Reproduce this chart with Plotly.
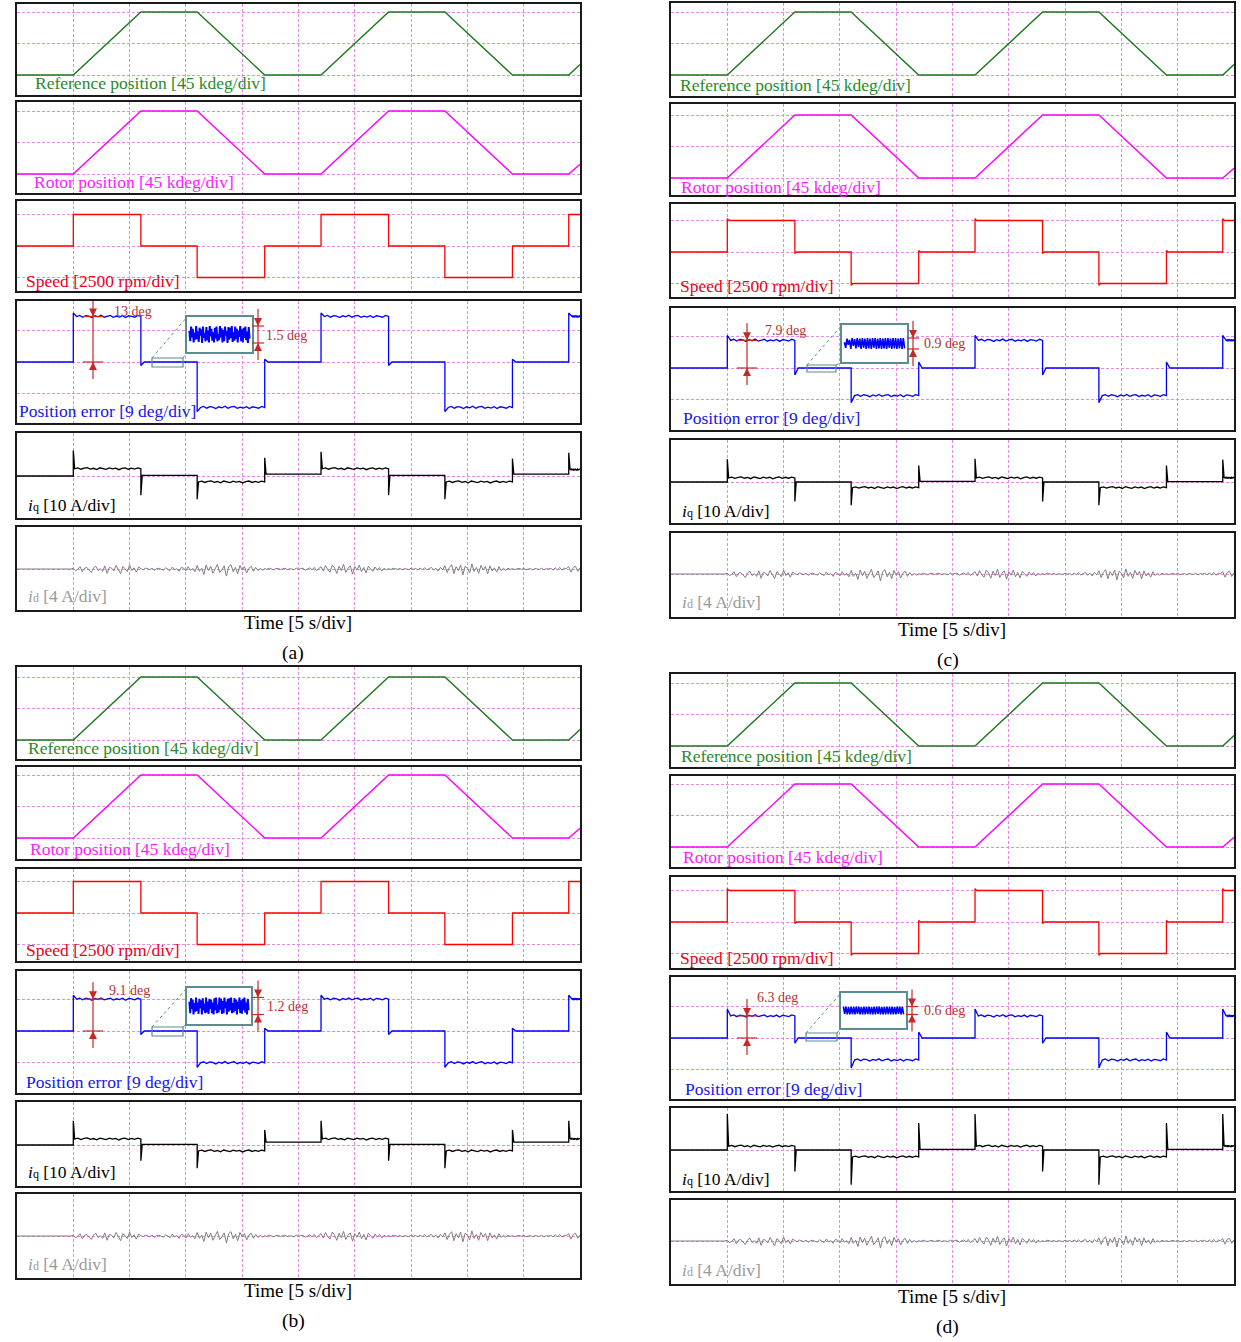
import plotly.graph_objects as go

W, H = 1241, 1342
FONT = "Liberation Serif"

# ---------------- data ----------------
# move profile: event instants (s) within a 50 s record
EVENT_T = [5, 11, 16, 22, 27, 33, 38, 44, 49]
T_END = 50

# positions (kdeg)
REF_T = [0, 5, 11, 16, 22, 27, 33, 38, 44, 49, 50]
REF_POS = [0, 0, 90, 90, 0, 0, 90, 90, 0, 0, 15]
ROT_T = [0, 5, 11, 16, 22, 27, 33, 38, 44, 49, 50]
ROT_POS = [0, 0, 90, 90, 0, 0, 90, 90, 0, 0, 14]

# speed (rpm): level of each segment, and peak reached at each event
SPEED_LEVELS = [0, 2500, 0, -2500, 0, 2500, 0, -2500, 0, 2500]
SPEED_PEAKS = {
    "a": [2500, 0, -2500, 0, 2500, 0, -2500, 0, 2500],
    "b": [2500, 0, -2500, 0, 2500, 0, -2500, 0, 2500],
    "c": [2650, -120, -2650, 120, 2650, -120, -2650, 120, 2650],
    "d": [2650, -120, -2650, 120, 2650, -120, -2650, 120, 2650],
}

# position error (deg)
PE_LEVELS = {
    "a": [0, 13, 0, -13, 0, 13, 0, -13, 0, 13],
    "b": [0, 9.1, 0, -9.1, 0, 9.1, 0, -9.1, 0, 9.1],
    "c": [0, 7.9, 0, -7.9, 0, 7.9, 0, -7.9, 0, 7.9],
    "d": [0, 6.3, 0, -6.3, 0, 6.3, 0, -6.3, 0, 6.3],
}
PE_PEAKS = {
    "a": [14.0, -1.0, -14.2, 0.8, 14.0, -1.0, -14.2, 0.8, 14.0],
    "b": [10.2, -1.0, -10.4, 0.8, 10.2, -1.0, -10.4, 0.8, 10.2],
    "c": [9.3, -2.0, -9.9, 1.7, 9.3, -2.0, -9.9, 1.7, 9.3],
    "d": [8.3, -1.5, -8.6, 1.7, 8.3, -1.5, -8.6, 1.7, 8.3],
}
PE_RIPPLE = [0.3, -0.2, 0.25, 0.1, -0.3, 0.2, -0.1, 0.35, -0.2, 0.15,
             0.3, -0.25, 0.1, -0.15, 0.25, -0.3, 0.2, 0.05, -0.2, 0.3]

# zoomed standstill error (deg)
NOISE = {
    "a": [0.35, -0.6, 0.7, -0.25, 0.5, -0.7, 0.15, -0.45, 0.75, -0.4, 0.25, -0.65,
          0.6, -0.1, 0.45, -0.75, 0.7, -0.3, 0.1, -0.6, 0.65, -0.5, 0.35, -0.7,
          0.75, -0.15, 0.5, -0.55, 0.2, -0.7, 0.6, -0.35, 0.7, -0.6, 0.05, -0.5,
          0.75, -0.25, 0.55, -0.7, 0.4, -0.6, 0.7, -0.1, 0.3, -0.75, 0.65, -0.45,
          0.6, -0.3, 0.75, -0.65, 0.2, -0.55, 0.7, -0.4, 0.5, -0.7, 0.35, -0.2,
          0.75, -0.6, 0.45, -0.7, 0.6, -0.3, 0.7, -0.5, 0.25, -0.75, 0.65, -0.35],
    "b": [0.3, -0.5, 0.55, -0.2, 0.45, -0.6, 0.2, -0.4, 0.6, -0.35, 0.25, -0.55,
          0.5, -0.15, 0.4, -0.6, 0.55, -0.3, 0.15, -0.5, 0.6, -0.45, 0.3, -0.55,
          0.5, -0.2, 0.45, -0.5, 0.25, -0.6, 0.55, -0.3, 0.6, -0.5, 0.1, -0.45,
          0.6, -0.25, 0.5, -0.55, 0.35, -0.5, 0.6, -0.15, 0.3, -0.6, 0.5, -0.4,
          0.55, -0.3, 0.6, -0.5, 0.2, -0.45, 0.55, -0.35, 0.45, -0.6, 0.3, -0.2,
          0.6, -0.5, 0.4, -0.55, 0.5, -0.3, 0.6, -0.45, 0.25, -0.6, 0.5, -0.3],
    "c": [0.1, -0.35, 0.4, -0.1, 0.3, -0.45, 0.45, -0.2, 0.35, -0.4, 0.45, -0.3,
          0.4, -0.45, 0.45, -0.35, 0.4, -0.45, 0.45, -0.4, 0.4, -0.45, 0.45, -0.35,
          0.45, -0.45, 0.4, -0.4, 0.45, -0.45, 0.4, -0.4, 0.45, -0.45, 0.45, -0.35,
          0.4, -0.45, 0.45, -0.4, 0.45, -0.45, 0.4, -0.4, 0.45, -0.45, 0.45, -0.4],
    "d": [0.3, -0.25, 0.3, -0.3, 0.28, -0.3, 0.3, -0.28, 0.3, -0.3, 0.3, -0.25,
          0.3, -0.3, 0.28, -0.3, 0.3, -0.3, 0.3, -0.28, 0.3, -0.3, 0.28, -0.3,
          0.3, -0.3, 0.3, -0.25, 0.3, -0.3, 0.28, -0.3, 0.3, -0.3, 0.3, -0.28,
          0.3, -0.3, 0.3, -0.3, 0.28, -0.3, 0.3, -0.25, 0.3, -0.3, 0.3, -0.3],
}

# q-axis current (A)
IQ_LEVELS = {
    "a": [0, 2.3, 0.2, -1.9, 0.6, 2.3, 0.2, -1.9, 0.6, 2.0],
    "b": [0, 1.9, 0.2, -1.9, 0.9, 1.9, 0.2, -1.9, 0.9, 1.9],
    "c": [0, 1.3, 0.0, -1.8, 0.2, 1.3, 0.0, -1.8, 0.1, 1.3],
    "d": [0, 1.2, 0.0, -2.2, 0.2, 1.2, 0.0, -2.2, 0.2, 1.2],
}
IQ_PEAKS = {
    "a": [8.1, -6.1, -7.4, 5.8, 7.7, -6.1, -7.4, 5.5, 7.4],
    "b": [7.7, -5.0, -7.4, 4.8, 7.7, -5.0, -7.4, 4.8, 7.7],
    "c": [7.2, -6.2, -7.4, 5.2, 7.4, -6.2, -7.4, 5.2, 7.1],
    "d": [11.4, -6.8, -11.0, 8.6, 11.4, -6.8, -11.0, 8.6, 11.4],
}
IQ_RIPPLE = [0.25, -0.15, 0.2, 0.35, -0.1, 0.15, -0.25, 0.3, 0.05, -0.2,
             0.25, -0.05, 0.2, -0.3, 0.1, 0.3, -0.15, 0.2, -0.1, 0.25]

# d-axis current (A), sampled every ID_DT seconds
ID_DT = 0.2
ID_VALUES = [
    # 0 - 4.8 s
    0, 0, 0.02, 0, -0.02, 0, 0, 0.02, 0, 0, -0.02, 0, 0.02, 0, 0, 0, -0.02, 0, 0.02, 0,
    0, -0.02, 0, 0.02, 0,
    # 5 - 10.8 s
    0.1, -0.2, -0.05, 0.3, -0.35, 0.1, 0.2, -0.1, -0.45, 0.15, 0.35, -0.2, 0.05, -0.3, 0.4,
    -0.55, 0.2, 0.1, -0.25, 0.45, -0.15, -0.6, 0.3, 0.05, -0.35, 0.5, -0.2, 0.15, -0.4, 0.25,
    # 11 - 15.8 s
    0.05, -0.1, 0.12, 0, -0.08, 0.1, -0.15, 0.05, 0.1, -0.05, -0.12, 0.15, 0, -0.2, 0.25,
    -0.1, 0.05, -0.3, 0.2, 0.1, -0.25, 0.3, -0.15, 0.05, -0.35,
    # 16 - 21.8 s
    0.45, -0.3, 0.1, -0.7, 0.5, -0.2, 0.35, -0.55, 0.15, 0.6, -0.45, -0.1, 0.4, -0.9, 0.3,
    0.55, -0.35, 0.2, -0.6, 0.45, -0.15, 0.3, -0.5, 0.1, 0.35, -0.3, 0.2, -0.2, 0.1, -0.15,
    # 22 - 26.8 s
    0.05, -0.05, 0.1, 0, -0.1, 0.05, 0.08, -0.06, 0, 0.1, -0.08, 0.04, 0, -0.1, 0.12,
    -0.05, 0.06, 0.1, -0.15, 0.05, 0.15, -0.1, 0.2, -0.2, 0.1,
    # 27 - 32.8 s
    0.3, -0.25, 0.45, -0.1, -0.4, 0.5, 0.15, -0.55, 0.35, -0.2, 0.6, -0.45, 0.1, 0.4, -0.65,
    0.3, -0.15, 0.5, -0.35, 0.2, -0.5, 0.35, 0.05, -0.3, 0.25, -0.15, 0.2, -0.25, 0.1, -0.1,
    # 33 - 37.8 s
    0.05, -0.08, 0.1, 0, -0.05, 0.08, -0.1, 0.05, 0, -0.06, 0.1, -0.04, 0.06, -0.1, 0.12,
    -0.08, 0.15, -0.12, 0.05, 0.2, -0.15, 0.1, -0.25, 0.2, -0.1,
    # 38 - 43.8 s
    0.4, -0.45, 0.2, 0.55, -0.6, 0.3, -0.2, 0.5, -0.75, 0.35, 0.1, -0.5, 0.65, -0.3, 0.2,
    -0.55, 0.45, -0.1, 0.3, -0.6, 0.4, -0.25, 0.15, -0.4, 0.3, -0.2, 0.1, -0.15, 0.1, -0.05,
    # 44 - 48.8 s
    0.05, -0.06, 0, 0.08, -0.05, 0.1, -0.08, 0, 0.05, -0.1, 0.06, 0, -0.05, 0.1, -0.12,
    0.05, 0, 0.08, -0.1, 0.15, -0.12, 0.2, -0.15, 0.1, 0.05,
    # 49 - 50 s
    0.3, -0.4, 0.2, 0.35, -0.3, 0.15,
]

# ---------------- page geometry (pixels) ----------------
PANELS = [
    dict(key="a", x0=17, x1=580, ppd=31.5, ippd=11.3,
         strips=[(4, 95, 75), (102, 193, 174), (201, 291, 246), (301, 423, 362),
                 (433, 518, 476), (527, 610, 569)],
         labels=[(33, 83), (32, 182), (24, 281), (17, 411), (26, 505), (26, 596)],
         time=(298, 622), cap=(293, 653),
         big=(187, 317, 252, 352), small=(152, 358, 183, 367), idim_x=258, ilab=(264, 335),
         mdim_x=93, mlab=(112, 311)),
    dict(key="b", x0=17, x1=580, ppd=31.5, ippd=14.2,
         strips=[(667, 759, 740), (767, 859, 838), (869, 961, 913), (971, 1093, 1031),
                 (1102, 1186, 1145), (1194, 1278, 1236)],
         labels=[(26, 748), (28, 849), (24, 950), (24, 1082), (26, 1172), (26, 1264)],
         time=(298, 1290), cap=(293, 1321),
         big=(187, 988, 251, 1024), small=(152, 1027, 183, 1036), idim_x=258, ilab=(265, 1006),
         mdim_x=93, mlab=(107, 990)),
    dict(key="c", x0=671, x1=1234, ppd=31.5, ippd=12.2,
         strips=[(3, 96, 75), (104, 195, 178), (204, 297, 252), (308, 430, 368),
                 (440, 523, 482), (533, 617, 574)],
         labels=[(678, 85), (679, 187), (678, 286), (681, 418), (680, 511), (680, 602)],
         time=(952, 629), cap=(948, 660),
         big=(842, 325, 907, 362), small=(807, 365, 836, 372), idim_x=913, ilab=(922, 343),
         mdim_x=747, mlab=(763, 330)),
    dict(key="d", x0=671, x1=1234, ppd=31.5, ippd=13.3,
         strips=[(674, 767, 746), (776, 867, 847), (877, 968, 922), (977, 1099, 1038),
                 (1108, 1191, 1150), (1200, 1284, 1241)],
         labels=[(679, 756), (681, 857), (678, 958), (683, 1089), (680, 1179), (680, 1270)],
         time=(952, 1296), cap=(948, 1327),
         big=(841, 993, 906, 1028), small=(806, 1033, 837, 1041), idim_x=912, ilab=(922, 1010),
         mdim_x=747, mlab=(755, 997)),
]

GRID = "#e58be5"
GRID_DASH = "3px,2px"
FRAME = "#1a1a1a"
DIM_RED = "#c62828"
BOX = "#5b8c91"
SUBSCRIPT = "<span style='font-size:12px'>{}</span>"


def pxx(x):
    return x / W


def pyy(y):
    return 1 - y / H


def ax_names(n):
    s = "" if n == 1 else str(n)
    return "xaxis" + s, "yaxis" + s, "x" + s, "y" + s


def piecewise(levels, peaks, settle, ripple=None, ripple_min=1.0):
    xs, ys = [0.0], [levels[0]]
    for i, t in enumerate(EVENT_T):
        t_next = EVENT_T[i + 1] if i + 1 < len(EVENT_T) else T_END
        new = levels[i + 1]
        xs += [t, t, t + settle]
        ys += [levels[i], peaks[i], new]
        if ripple is not None and abs(new) >= ripple_min:
            span = t_next - t - settle
            for k, r in enumerate(ripple):
                xs.append(t + settle + span * (k + 1) / (len(ripple) + 1))
                ys.append(new + r)
    xs.append(T_END)
    ys.append(levels[-1])
    return xs, ys


def dim_traces(x, top, bottom, ext, half_w, xr, yr):
    """Red dimension bar: ticks at top/bottom, arrowheads pointing inward."""
    line = go.Scatter(x=[x, x, None, x - half_w, x + half_w, None, x - half_w, x + half_w],
                      y=[top + ext, bottom - ext, None, top, top, None, bottom, bottom],
                      mode="lines", line=dict(color=DIM_RED, width=1.2),
                      xaxis=xr, yaxis=yr, hoverinfo="skip")
    heads = go.Scatter(x=[x, x], y=[top, bottom], mode="markers",
                       marker=dict(symbol=["arrow-down", "arrow-up"], size=8, color=DIM_RED,
                                   line=dict(width=0)),
                       cliponaxis=False, xaxis=xr, yaxis=yr, hoverinfo="skip")
    return [line, heads]


fig = go.Figure()
layout = dict(width=W, height=H, margin=dict(l=0, r=0, t=0, b=0),
              paper_bgcolor="white", plot_bgcolor="rgba(0,0,0,0)", showlegend=False)
annotations = []
shapes = []

id_t = [k * ID_DT for k in range(len(ID_VALUES))]

for pi, P in enumerate(PANELS):
    k = P["key"]
    x0p, x1p, ppd = P["x0"], P["x1"], P["ppd"]
    spp = T_END / (x1p - x0p)  # seconds per pixel

    spd_x, spd_y = piecewise(SPEED_LEVELS, SPEED_PEAKS[k], 0.15)
    pe_x, pe_y = piecewise(PE_LEVELS[k], PE_PEAKS[k], 0.3, PE_RIPPLE)
    iq_x, iq_y = piecewise(IQ_LEVELS[k], IQ_PEAKS[k], 0.12, IQ_RIPPLE)

    signals = [
        dict(unit=45, x=REF_T, y=REF_POS, color="#1d7a1d", w=1.4, grid=[0, 45, 90],
             mcolor="#178017", label="Reference position [45 kdeg/div]", lcolor="#2a8a2a"),
        dict(unit=45, x=ROT_T, y=ROT_POS, color="#ff00ff", w=1.4, grid=[0, 45, 90],
             mcolor="#ff7dff", label="Rotor position [45 kdeg/div]", lcolor="#ff1aff"),
        dict(unit=2500, x=spd_x, y=spd_y, color="#ff0000", w=1.3, grid=[-2500, 0, 2500],
             mcolor="#ff4a00", label="Speed [2500 rpm/div]", lcolor="#e8001a"),
        dict(unit=9, x=pe_x, y=pe_y, color="#0000ff", w=1.3, grid=[-9, 0, 9],
             mcolor="#0030e0", label="Position error [9 deg/div]", lcolor="#1515f0"),
        dict(unit=10, x=iq_x, y=iq_y, color="#000000", w=1.3, grid=[0],
             mcolor="#000000", label="<i>i</i>" + SUBSCRIPT.format("q") + " [10 A/div]",
             lcolor="#000000"),
        dict(unit=4, x=id_t, y=ID_VALUES, color="#808080", w=1.0, grid=[0],
             mcolor="#a8a8a8", label="<i>i</i>" + SUBSCRIPT.format("d") + " [4 A/div]",
             lcolor="#9a9a9a"),
    ]

    for si, (top, bot, zero) in enumerate(P["strips"]):
        n = pi * 6 + si + 1
        xa, ya, xr, yr = ax_names(n)
        sig = signals[si]
        u = sig["unit"]
        lo = -(bot - zero) / ppd * u
        hi = (zero - top) / ppd * u
        layout[xa] = dict(domain=[pxx(x0p), pxx(x1p)], range=[0, T_END], anchor=yr,
                          showgrid=True, gridcolor=GRID, griddash=GRID_DASH, gridwidth=1,
                          tick0=0, dtick=5, showticklabels=False, ticks="",
                          showline=True, mirror=True, linecolor=FRAME, linewidth=2,
                          zeroline=False, fixedrange=True)
        layout[ya] = dict(domain=[pyy(bot), pyy(top)], range=[lo, hi], anchor=xr,
                          tickmode="array", tickvals=sig["grid"], showgrid=True,
                          gridcolor=GRID, griddash=GRID_DASH, gridwidth=1,
                          showticklabels=False, ticks="", showline=True, mirror=True,
                          linecolor=FRAME, linewidth=2, zeroline=False, fixedrange=True)
        fig.add_trace(go.Scatter(x=sig["x"], y=sig["y"], mode="lines",
                                 line=dict(color=sig["color"], width=sig["w"]),
                                 xaxis=xr, yaxis=yr, hoverinfo="skip"))
        # channel ground marker
        fig.add_trace(go.Scatter(x=[-5 * spp], y=[0], mode="markers",
                                 marker=dict(symbol="triangle-right", size=9, color=sig["mcolor"]),
                                 cliponaxis=False, xaxis=xr, yaxis=yr, hoverinfo="skip"))
        lx, ly = P["labels"][si]
        annotations.append(dict(xref="paper", yref="paper", x=pxx(lx), y=pyy(ly),
                                xanchor="left", yanchor="middle", text=sig["label"],
                                showarrow=False,
                                font=dict(family=FONT, size=17.5, color=sig["lcolor"])))

    # ---- dimension bar for the tracking error level ----
    n_pe = pi * 6 + 4
    _, _, xr, yr = ax_names(n_pe)
    lvl = PE_LEVELS[k][1]
    t_dim = (P["mdim_x"] - x0p) * spp
    for tr in dim_traces(t_dim, lvl, 0, 17 / ppd * 9, 10 * spp, xr, yr):
        fig.add_trace(tr)
    mx, my = P["mlab"]
    annotations.append(dict(xref="paper", yref="paper", x=pxx(mx), y=pyy(my), xanchor="left",
                            yanchor="middle", text=f"{lvl:g} deg", showarrow=False,
                            font=dict(family=FONT, size=14, color="#b8312f")))

    # ---- zoomed inset of the standstill error ----
    bx0, by0, bx1, by1 = P["big"]
    noise = NOISE[k]
    ippd = P["ippd"]
    half = (by1 - by0) / 2 / ippd
    ni = 24 + pi + 1
    ixa, iya, ixr, iyr = ax_names(ni)
    layout[ixa] = dict(domain=[pxx(bx0), pxx(bx1)], range=[-0.04, 1.04], anchor=iyr,
                       showgrid=False, zeroline=False, showticklabels=False, ticks="",
                       showline=True, mirror=True, linecolor=BOX, linewidth=1.5, fixedrange=True)
    layout[iya] = dict(domain=[pyy(by1), pyy(by0)], range=[-half, half], anchor=ixr,
                       showgrid=False, zeroline=False, showticklabels=False, ticks="",
                       showline=True, mirror=True, linecolor=BOX, linewidth=1.5, fixedrange=True)
    fig.add_trace(go.Scatter(x=[-0.04, 1.04, 1.04, -0.04, -0.04], y=[-half, -half, half, half, -half],
                             mode="lines", fill="toself", fillcolor="white",
                             line=dict(width=0, color="white"), xaxis=ixr, yaxis=iyr,
                             hoverinfo="skip"))
    nx = [j / (len(noise) - 1) for j in range(len(noise))]
    fig.add_trace(go.Scatter(x=nx, y=noise, mode="lines",
                             line=dict(color="#0000ff", width=2.0 if pi < 2 else 1.6),
                             xaxis=ixr, yaxis=iyr, hoverinfo="skip"))

    # dimension of the standstill ripple (own axes sharing the inset scale)
    vmax, vmin = max(noise), min(noise)
    pad = 14
    nd = 28 + pi + 1
    dxa, dya, dxr, dyr = ax_names(nd)
    dx_c = P["idim_x"]
    layout[dxa] = dict(domain=[pxx(dx_c - 8), pxx(dx_c + 8)], range=[0, 1], anchor=dyr,
                       visible=False, fixedrange=True)
    layout[dya] = dict(domain=[pyy(by1 + pad), pyy(by0 - pad)],
                       range=[-half - pad / ippd, half + pad / ippd], anchor=dxr,
                       visible=False, fixedrange=True)
    for tr in dim_traces(0.5, vmax, vmin, 17 / ippd, 0.38, dxr, dyr):
        fig.add_trace(tr)
    ilx, ily = P["ilab"]
    annotations.append(dict(xref="paper", yref="paper", x=pxx(ilx), y=pyy(ily), xanchor="left",
                            yanchor="middle", text=f"{round(vmax - vmin, 2):g} deg",
                            showarrow=False, font=dict(family=FONT, size=14, color="#b8312f")))

    # zoom window on the trace and its leader lines
    sx0, sy0, sx1, sy1 = P["small"]
    shapes.append(dict(type="rect", xref="paper", yref="paper", x0=pxx(sx0), x1=pxx(sx1),
                       y0=pyy(sy1), y1=pyy(sy0), line=dict(color=BOX, width=1.2)))
    shapes.append(dict(type="line", xref="paper", yref="paper", x0=pxx(sx0), y0=pyy(sy0),
                       x1=pxx(bx0), y1=pyy(by0), line=dict(color=BOX, width=1, dash="dot")))
    shapes.append(dict(type="line", xref="paper", yref="paper", x0=pxx(sx1), y0=pyy(sy0),
                       x1=pxx(bx0), y1=pyy(by1), line=dict(color=BOX, width=1, dash="dot")))

    # time base and sub-figure caption
    tx, ty = P["time"]
    annotations.append(dict(xref="paper", yref="paper", x=pxx(tx), y=pyy(ty), xanchor="center",
                            yanchor="middle", text="Time [5 s/div]", showarrow=False,
                            font=dict(family=FONT, size=19, color="#000000")))
    cx, cy = P["cap"]
    annotations.append(dict(xref="paper", yref="paper", x=pxx(cx), y=pyy(cy), xanchor="center",
                            yanchor="middle", text=f"({k})", showarrow=False,
                            font=dict(family=FONT, size=19.5, color="#000000")))

layout["annotations"] = annotations
layout["shapes"] = shapes
fig.update_layout(**layout)
fig.write_html("out.html", config={"displayModeBar": False})
